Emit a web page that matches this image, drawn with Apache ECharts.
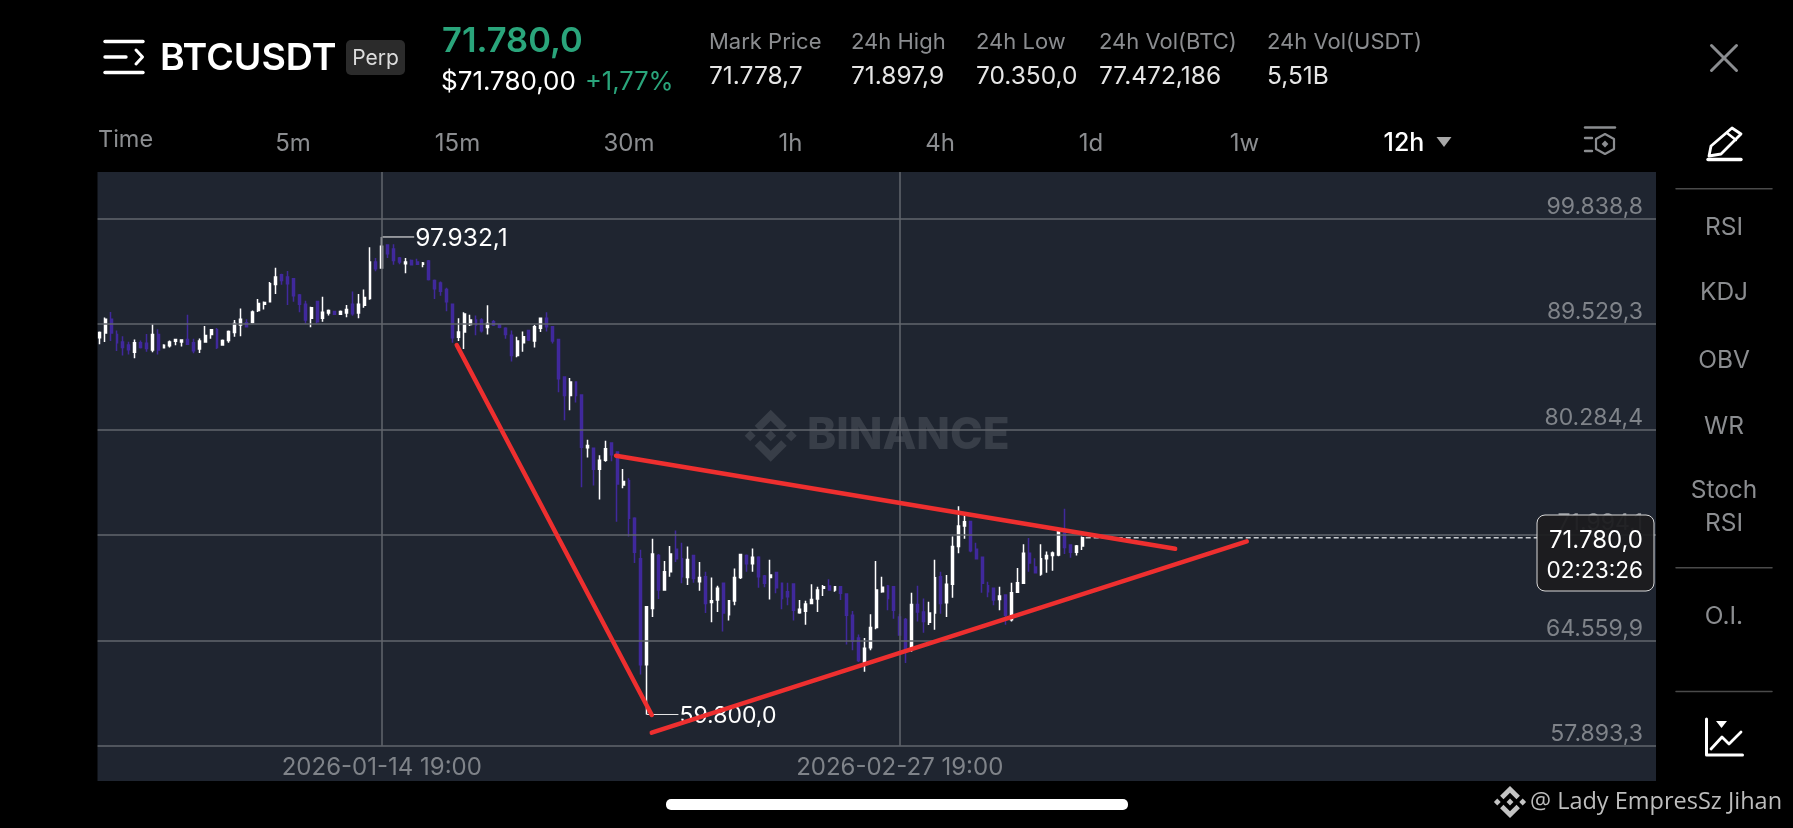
<!DOCTYPE html>
<html><head><meta charset="utf-8">
<style>html,body{margin:0;padding:0;background:#000;overflow:hidden}#c{width:1793px;height:828px}</style>
<script src="https://cdn.jsdelivr.net/npm/echarts@6/dist/echarts.min.js"></script>
</head><body><div id="c"></div>
<script>
const opens=[88244,88682,89953,88536,87865,87602,86930,87806,87748,87135,88536,87339,87514,87923,87865,88098,87806,87222,87865,88536,88974,87602,88011,88741,89412,89627,89659,90768,91355,91583,93245,94191,93963,93800,92235,91355,90051,91615,90051,90540,90670,90409,90540,91355,90540,91257,91909,95430,94843,97125,96734,95821,95267,95593,95430,95201,95527,93637,93376,92756,91355,88303,88770,89471,89888,89888,89179,89725,89441,89120,88478,86638,87806,88916,87952,89120,90051,89266,88098,84740,83134,84302,83175,78764,78738,77035,77769,79157,78424,75804,76123,73230,70235,62956,66718,70470,68008,69297,70939,70235,68899,70470,68594,68946,67140,67304,68477,66296,67234,68899,70470,69884,70353,68992,68899,69250,68477,67890,68430,66436,66530,67070,67374,68125,68289,68008,68242,67726,66249,64725,63125,64075,65428,67890,68289,68242,66132,65967,63969,66999,66483,65780,66413,68946,67117,68406,71126,72652,72993,70939,70353,68312,68125,67351,67656,65944,67843,68477,70634,69649,69133,70235,70470,70517,72125,71244,70704,71173];
const closes=[88741,89953,88682,87806,87368,87164,87806,87368,87281,88536,87135,87573,87865,88098,88040,87660,87076,87952,88449,88974,87368,88011,88828,89562,89953,89266,90637,91420,91518,93311,93963,93637,93311,92170,91355,89888,91029,89725,90605,90768,90409,90670,90866,90474,91355,92007,95430,94778,96995,96245,95593,95430,95430,95169,95201,95332,93734,92822,92593,91583,88244,88770,90442,89888,89412,88887,89562,89412,89208,88536,86638,87952,88332,88040,89266,90051,89266,87952,84594,83134,84302,83134,78817,78948,77035,77769,78686,78214,75882,76066,73230,70704,62956,66835,70587,68008,69297,70587,70235,68946,70188,68828,68899,67070,67257,68125,66413,67257,68899,70540,69884,70353,68946,68477,69063,68172,67421,67538,66600,66671,67023,67351,68008,68242,68008,68242,67773,66249,64497,63231,64032,65428,68008,68195,67421,66600,64912,63864,66999,66483,65827,66413,68875,67070,68406,71126,72652,72967,70822,70235,68477,67890,67304,67585,66249,67820,68523,70634,69930,69227,70235,70470,70657,72257,71056,70704,71173,71780];
const highs=[88828,90116,90637,88916,88390,87894,88098,88011,88595,89500,89033,87660,88011,88098,88098,90377,88156,88186,89325,88974,89149,88098,88916,89888,90963,89953,90768,91844,91615,93474,94875,94289,94549,93800,92333,91681,91126,91615,92072,90866,90735,90768,91289,92561,92333,92756,96897,95821,97932,97190,97190,95919,95821,95690,95756,95430,95625,93734,93539,92919,91355,90051,90605,90377,90311,90051,91257,89888,89500,89208,88916,88332,88828,88974,89412,90116,90605,89266,88156,84740,84653,84302,83175,79419,78738,78162,79341,79210,78476,77061,76334,73309,70892,66835,71713,70587,70071,71173,72310,71408,71126,70517,70001,69297,68899,68312,68477,67257,69532,70587,70540,70986,70423,69063,70165,69297,68477,68523,68430,67304,67257,68406,68242,68359,68758,68289,68289,67726,66554,64959,64725,66319,70071,68946,68359,68289,66366,66061,67820,68312,67421,67187,70165,69297,69063,71877,74151,73704,73046,71408,70353,68594,68172,68242,67703,68523,69579,71290,71760,70282,71290,70775,70775,72257,73967,71290,71244,71877];
const lows=[87660,87865,87952,87047,86638,86726,86405,87281,86989,86930,86726,87281,87368,87573,87456,87602,86843,86872,87806,88156,87222,87514,87806,88332,88390,89208,89562,90637,90866,91518,92333,93213,91289,91583,90605,89562,89208,89562,89725,90311,90344,90377,90148,90279,90051,91029,91778,94517,94778,95821,95169,95201,94321,95104,95169,94908,93637,91844,92170,90703,87806,87952,87222,89325,88478,88741,88536,89325,89120,88156,86113,86492,86989,87952,87368,88770,88828,87719,83426,81032,81879,82550,75620,77978,75751,74677,77638,77690,72974,75542,71877,69930,62323,59800,66132,67374,67961,68946,70001,68477,68359,68523,67961,66413,65780,66483,65147,65897,66952,68781,69297,69297,68172,68195,67351,67773,66671,66952,65897,66366,65616,67070,66483,67585,67961,67890,67304,64286,63906,63125,62492,63906,65311,67820,66600,66014,64912,63062,63800,65827,65076,65592,65264,66366,66132,67468,70634,71713,70704,70188,67820,67492,66952,66600,65616,65827,67820,68430,69297,69180,69016,69227,69368,70423,70587,70306,70470,70868];
const gridPrices=[99838.8,89529.3,80284.4,71994.1,64559.9,57893.3];
const gridLabels=['99.838,8','89.529,3','80.284,4','71.994,1','64.559,9','57.893,3'];
const timeLabels=['2026-01-14 19:00','2026-02-27 19:00'];
const timeIndexes=[48,136];
const trendA=[[60.73,87590],[93.87,59770]];
const trendB=[[87.8,78128],[182.8,70966]];
const trendC=[[93.87,58685],[194.97,71513]];
const lastPrice=71780, highPrice=97932.1, lowPrice=59800;
const statNames=['Mark Price','24h High','24h Low','24h Vol(BTC)','24h Vol(USDT)'];
const statValues=['71.778,7','71.897,9','70.350,0','77.472,186','5,51B'];
const tabs=['5m','15m','30m','1h','4h','1d','1w'];
const sideItems=['RSI','KDJ','OBV','WR','Stoch','RSI','O.I.'];

const FONT='Inter';
const YMIN=55830,YMAX=104731,SLOTS=265;
const PANEL='#1f2530',GRID='#62666d',UP='#ffffff',DOWN='#40299c',RED='#ee2f2f',GRAY='#8b8d90',GREEN='#2aa57b',AXT='#7f8389';
const categories=[];
for(let i=0;i<SLOTS;i++){
  const d=new Date(Date.UTC(2026,0,14,19)+(i-48)*43200000);
  const p=n=>String(n).padStart(2,'0');
  categories.push(d.getUTCFullYear()+'-'+p(d.getUTCMonth()+1)+'-'+p(d.getUTCDate())+' '+p(d.getUTCHours())+':00');
}
const candles=opens.map((o,i)=>[o,closes[i],lows[i],highs[i]]);

function T(x,y,text,size,fill,align,weight,z,font){
  return {type:'text',z:z||50,silent:true,style:{x,y,text,fill,align:align||'left',verticalAlign:'middle',font:(weight||400)+' '+size+'px '+(font||FONT)}};
}
function L(x1,y1,x2,y2,stroke,w,z){
  return {type:'line',z:z||50,silent:true,shape:{x1,y1,x2,y2},style:{stroke,lineWidth:w,lineCap:'round'}};
}
function PL(pts,stroke,w,fill,close){
  return {type:close?'polygon':'polyline',z:50,silent:true,shape:{points:pts},style:{stroke,lineWidth:w,fill:fill||null,lineJoin:'round',lineCap:'round'}};
}
function diamond(cx,cy,r,fill,z){
  return {type:'polygon',z:z,silent:true,shape:{points:[[cx,cy-r],[cx+r,cy],[cx,cy+r],[cx-r,cy]]},style:{fill}};
}
function logo(cx,cy,s,fill,z){
  const chev=(sign)=>({type:'polygon',z,silent:true,shape:{points:[
    [cx-16*s,cy+sign*10*s],[cx,cy+sign*26*s],[cx+16*s,cy+sign*10*s],[cx+10.5*s,cy+sign*4.5*s],[cx,cy+sign*15*s],[cx-10.5*s,cy+sign*4.5*s]
  ]},style:{fill}});
  return [diamond(cx,cy,5.5*s,fill,z),diamond(cx-20.5*s,cy,5.5*s,fill,z),diamond(cx+20.5*s,cy,5.5*s,fill,z),chev(1),chev(-1)];
}
const xs=[709,851,976,1099,1267];
const tabX=[293,457.5,629,790.5,940,1091,1244.5];
const sideY=[228,293,361,426.6,490.5,524,617];
const g=[];
g.push({type:'rect',z:40,silent:true,shape:{x:90,y:170,width:7.5,height:615},style:{fill:'#000'}});
g.push(L(105,41.5,143,41.5,'#fff',3.4),L(105,57,126,57,'#fff',3.4),L(105,72.5,143,72.5,'#fff',3.4),PL([[136,50],[142.5,57],[136,64]],'#fff',3));
g.push(T(160,59,'BTCUSDT',37.5,'#fff','left',600));
g.push({type:'rect',z:49,silent:true,shape:{x:346,y:40,width:59,height:35,r:5},style:{fill:'#2b2b2b'}});
g.push(T(375.5,58.5,'Perp',21,'#dcdcdc','center'));
g.push(T(442,42,'71.780,0',34.5,GREEN,'left',600));
g.push(T(441,82,'$71.780,00',26,'#fff'));
g.push(T(585,82,'+1,77%',25.5,GREEN));
statNames.forEach((s,i)=>{g.push(T(xs[i],42,s,22,GRAY));g.push(T(xs[i],76.5,statValues[i],24.5,'#e6e6e6'));});
g.push(L(1711.5,45.5,1736.5,70.5,GRAY,3),L(1736.5,45.5,1711.5,70.5,GRAY,3));
g.push(T(98,140,'Time',23.5,GRAY));
tabs.forEach((s,i)=>g.push(T(tabX[i],143.5,s,24,GRAY,'center')));
g.push(T(1404,143.5,'12h',25,'#fff','center',500));
g.push({type:'polygon',z:50,silent:true,shape:{points:[[1436.5,137],[1451.5,137],[1444,147]]},style:{fill:'#a8a8a8'}});
g.push(L(1585,127.5,1615,127.5,GRAY,2.4),L(1585,138,1592,138,GRAY,2.4),L(1585,151,1592,151,GRAY,2.4));
g.push(PL([[1605,134],[1614,139],[1614,149],[1605,154],[1596,149],[1596,139]],GRAY,2.2,null,true));
g.push(diamond(1605,144,3.4,GRAY,50));
g.push(PL([[1732,128],[1741,134],[1721,154],[1709,156],[1711,146]],'#fff',2.8,null,true));
g.push(L(1727,133,1736,140,'#fff',2.4),L(1708,159.5,1741,159.5,'#fff',3.4));
[[1676,188.7],[1676,567.7],[1676,691.6]].forEach(a=>g.push(L(a[0],a[1],1772,a[1],'#4a4a4a',1.5)));
sideItems.forEach((s,i)=>g.push(T(1724,sideY[i],s,24.5,GRAY,'center')));
g.push(PL([[1706.5,719],[1706.5,755],[1742.5,755]],'#fff',3));
g.push(PL([[1711,749],[1722,737],[1729,744],[1741,732]],'#fff',2.8));
g.push({type:'polygon',z:50,silent:true,shape:{points:[[1716,721],[1727,721],[1721.5,728]]},style:{fill:'#fff'}});
g.push({type:'rect',z:50,silent:true,shape:{x:666,y:799,width:462,height:11,r:5},style:{fill:'#fff'}});
logo(1510,802,0.62,'#c4c4c4',50).forEach(e=>g.push(e));
g.push(T(1530,802,'@ Lady EmpresSz Jihan',23.5,'#bdbdbd','left',400,50,'"Open Sans"'));
logo(770.7,435.7,1,'#383e48',1).forEach(e=>g.push(e));
g.push(T(807,436,'BINANCE',44,'#383e48','left',800,1));
g.push({type:'rect',z:60,silent:true,shape:{x:1537,y:515,width:117,height:76,r:8},style:{fill:'rgba(28,28,30,0.93)',stroke:'#d9d9d9',lineWidth:1}});
g.push(T(1643,540.5,'71.780,0',24,'#fff','right',400,61));
g.push(T(1643,571,'02:23:26',22.6,'#fff','right',400,61));

const lineBase={type:'line',xAxisIndex:1,yAxisIndex:0,showSymbol:false,symbol:'none',silent:true,animation:false};
const option={
  backgroundColor:'#000',animation:false,
  grid:{left:96.36,right:1793-1656,top:172,bottom:828-781,show:true,backgroundColor:PANEL,borderWidth:0},
  graphic:{elements:g},
  xAxis:[
    {type:'category',data:categories,boundaryGap:true,axisLine:{show:false},axisTick:{show:false},splitLine:{show:false},
     axisLabel:{show:true,inside:true,margin:1.5,color:AXT,fontSize:24,fontFamily:FONT,hideOverlap:false,
       interval:(i)=>timeIndexes.includes(i),formatter:(v)=>timeLabels.includes(v)?v:''}},
    {type:'value',min:-0.5,max:SLOTS-0.5,show:false,splitLine:{show:false}}
  ],
  yAxis:[{type:'log',min:YMIN,max:YMAX,show:false,splitLine:{show:false}}],
  series:[
    {type:'line',xAxisIndex:0,yAxisIndex:0,data:[],z:1,silent:true,animation:false,symbol:'none',
     markLine:{silent:true,symbol:'none',animation:false,precision:1,
       lineStyle:{type:'solid',color:GRID,width:1.5},
       label:{show:true,position:'insideEndTop',distance:[13,0],color:AXT,fontSize:23,fontFamily:FONT},
       data:gridPrices.map((v,i)=>({yAxis:v,label:{formatter:gridLabels[i]}}))
        .concat(timeIndexes.map(i=>[{xAxis:categories[i],yAxis:YMAX,label:{show:false}},{xAxis:categories[i],yAxis:gridPrices[5]}]))
     }},
    {type:'candlestick',name:'BTCUSDT',xAxisIndex:0,yAxisIndex:0,z:3,animation:false,silent:true,data:candles,barWidth:2.4,
     itemStyle:{color:UP,color0:DOWN,borderColor:UP,borderColor0:DOWN,borderWidth:1.5}},
    Object.assign({},lineBase,{z:2,data:[[167.6,lastPrice],[244.3,lastPrice]],lineStyle:{color:'#c9ccd0',width:1.6,type:[5,3]}}),
    Object.assign({},lineBase,{z:4,data:[[48,highPrice],[53.5,highPrice]],lineStyle:{color:'#fff',width:1},
      endLabel:{show:true,formatter:'97.932,1',color:'#fff',fontSize:24.5,fontFamily:FONT,distance:1,offset:[0,2]}}),
    Object.assign({},lineBase,{z:4,data:[[93,lowPrice],[98.4,lowPrice]],lineStyle:{color:'#e6e6e6',width:1},
      endLabel:{show:true,formatter:'59.800,0',color:'#fff',fontSize:23,fontFamily:FONT,distance:1,offset:[0,1.5]}}),
    Object.assign({},lineBase,{z:6,data:trendA,lineStyle:{color:RED,width:4.5,cap:'round'}}),
    Object.assign({},lineBase,{z:6,data:trendB,lineStyle:{color:RED,width:4.5,cap:'round'}}),
    Object.assign({},lineBase,{z:6,data:trendC,lineStyle:{color:RED,width:4.5,cap:'round'}})
  ]
};
const chart=echarts.init(document.getElementById('c'));
chart.setOption(option);
</script></body></html>
